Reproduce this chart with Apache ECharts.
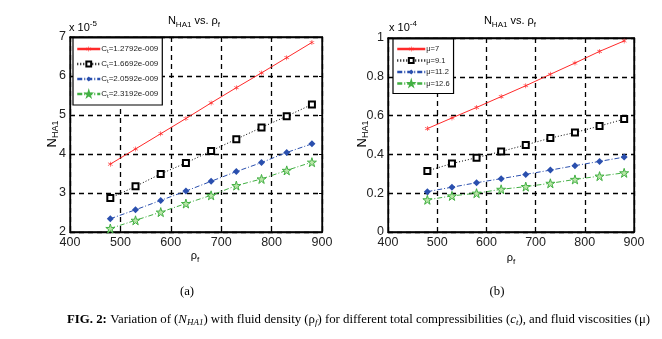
<!DOCTYPE html>
<html><head><meta charset="utf-8">
<script src="https://cdn.jsdelivr.net/npm/echarts@6/dist/echarts.min.js"></script>
<style>html,body{margin:0;padding:0;background:#fff}#c{width:662px;height:339px}</style>
</head><body><div id="c"></div>
<script>
// ---- data ----
const rho = [480, 530, 580, 630, 680, 730, 780, 830, 880];
// panel (a): N_HA1 (x 1e-5) for total compressibilities
const ctNames = ['Ct=1.2792e-009', 'Ct=1.6692e-009', 'Ct=2.0592e-009', 'Ct=2.3192e-009'];
const ctA = [3.74, 4.13, 4.52, 4.91, 5.31, 5.70, 6.08, 6.47, 6.86];
const ctB = [2.87, 3.17, 3.49, 3.77, 4.08, 4.38, 4.68, 4.97, 5.27];
const ctC = [2.34, 2.57, 2.81, 3.05, 3.30, 3.55, 3.78, 4.04, 4.26];
const ctD = [2.09, 2.30, 2.51, 2.73, 2.94, 3.19, 3.36, 3.58, 3.79];
// panel (b): N_HA1 (x 1e-4) for viscosities
const muNames = ['μ=7', 'μ=9.1', 'μ=11.2', 'μ=12.6'];
const muA = [0.533, 0.588, 0.642, 0.698, 0.754, 0.813, 0.871, 0.931, 0.985];
const muB = [0.315, 0.353, 0.383, 0.415, 0.449, 0.484, 0.513, 0.546, 0.582];
const muC = [0.208, 0.231, 0.254, 0.275, 0.297, 0.319, 0.342, 0.364, 0.386];
const muD = [0.166, 0.186, 0.200, 0.220, 0.234, 0.251, 0.271, 0.288, 0.305];
const xTicks = {min: 400, max: 900, interval: 100};
const yTicksA = {min: 2, max: 7, interval: 1};
const yTicksB = {min: 0, max: 1, interval: 0.2};

// ---- styles ----
const starPath = 'path://M50,0 L61,35 L98,35 L68,57 L79,91 L50,70 L21,91 L32,57 L2,35 L39,35 Z';
const asterPath = 'path://M45,0 L55,0 L55,38 L88,19 L93,28 L60,47 L60,53 L93,72 L88,81 L55,62 L55,100 L45,100 L45,62 L12,81 L7,72 L40,53 L40,47 L7,28 L12,19 L45,38 Z';
const styles = [
  {color: '#ff2a2a', line: {type: 'solid', width: 1}, symbol: asterPath, size: 5, item: {color: '#ff2a2a'}},
  {color: '#000000', line: {type: [1, 2], width: 1}, symbol: 'rect', size: 6, item: {color: '#ffffff', borderColor: '#000', borderWidth: 2}},
  {color: '#2a4fae', line: {type: [5, 2, 1, 2], width: 1}, symbol: 'diamond', size: 7, item: {color: '#2a4fae'}},
  {color: '#42b043', line: {type: [5, 2, 1, 2], width: 1}, symbol: starPath, size: 9, item: {color: '#b9e6a8', borderColor: '#42b043', borderWidth: 1}}
];

function mkSeries(name, vals, st, xi, yi) {
  return {
    type: 'line', name: name, xAxisIndex: xi, yAxisIndex: yi,
    data: rho.map((x, i) => [x, vals[i]]),
    symbol: st.symbol, symbolSize: st.size, showAllSymbol: true,
    lineStyle: Object.assign({color: st.color}, st.line),
    itemStyle: Object.assign({}, st.item),
    color: st.color, animation: false, z: 3
  };
}

const labelStyle = {color: '#222', fontFamily: 'Liberation Sans, Arial', fontSize: 12.5};
const gridLine = {show: true, lineStyle: {color: '#000', type: [5, 4], width: 1.3}};
function xAx(gi, pos, lab) {
  return Object.assign({type: 'value', gridIndex: gi, position: pos,
    axisLine: {show: true, onZero: false, lineStyle: {color: '#000', width: 1.3}},
    axisTick: {show: true, inside: true, length: 3, lineStyle: {color: '#000'}},
    axisLabel: Object.assign({show: lab, margin: 4}, labelStyle),
    splitLine: lab ? gridLine : {show: false}}, xTicks);
}
function yAx(gi, pos, lab, t) {
  return Object.assign({type: 'value', gridIndex: gi, position: pos,
    axisLine: {show: true, onZero: false, lineStyle: {color: '#000', width: 1.3}},
    axisTick: {show: true, inside: true, length: 3, lineStyle: {color: '#000'}},
    axisLabel: Object.assign({show: lab, margin: 4}, labelStyle),
    splitLine: lab ? gridLine : {show: false}}, t);
}

const subRich = {
  n: {fontFamily: 'Liberation Sans, Arial', fontSize: 11, color: '#222'},
  s: {fontFamily: 'Liberation Sans, Arial', fontSize: 8, color: '#222', padding: [7, 0, 0, 0]}
};
function legFmt(name) {
  if (name.startsWith('Ct')) return '{n|C}{s|t}{n|' + name.slice(2) + '}';
  return '{n|' + name + '}';
}
function legend(names, left, top, gap, fs, iw, lh) {
  return {
    data: names, orient: 'vertical', left: left, top: top,
    itemWidth: iw, itemHeight: 6, itemGap: gap,
    backgroundColor: '#fff', borderColor: '#000', borderWidth: 1.2,
    padding: [5, 4, 5, 3],
    formatter: legFmt,
    textStyle: {padding: [0, 0, 0, -4], lineHeight: lh, rich: {
      n: {fontFamily: 'Liberation Sans, Arial', fontSize: fs, color: '#222', lineHeight: lh},
      s: {fontFamily: 'Liberation Sans, Arial', fontSize: fs - 2, color: '#222', padding: [4, 0, 0, 0], lineHeight: lh}}},
    lineStyle: {width: 2.5}
  };
}

function txt(x, y, t, rich, extra) {
  return {type: 'text', x: x, y: y, silent: true, style: Object.assign({text: t, rich: rich, align: 'center', verticalAlign: 'middle'}, extra || {})};
}
const capRich = {
  b: {fontFamily: 'Liberation Serif', fontWeight: 'bold', fontSize: 12.8, color: '#000'},
  n: {fontFamily: 'Liberation Serif', fontSize: 12.8, color: '#000'},
  i: {fontFamily: 'Liberation Serif', fontStyle: 'italic', fontSize: 12.8, color: '#000'},
  s: {fontFamily: 'Liberation Serif', fontStyle: 'italic', fontSize: 9, color: '#000', padding: [5, 0, 0, 0]}
};
const supRich = {
  n: {fontFamily: 'Liberation Sans, Arial', fontSize: 11, color: '#222'},
  p: {fontFamily: 'Liberation Sans, Arial', fontSize: 8, color: '#222', padding: [0, 0, 8, 0]}
};
const axRich = {
  n: {fontFamily: 'Liberation Sans, Arial', fontSize: 13, color: '#222'},
  s: {fontFamily: 'Liberation Sans, Arial', fontSize: 9, color: '#222', padding: [8, 0, 0, 0]}
};

const chart = echarts.init(document.getElementById('c'), null, {renderer: 'canvas'});
chart.setOption({
  animation: false,
  backgroundColor: '#fff',
  grid: [
    {left: 70, right: 340, top: 37, bottom: 107, show: true, borderColor: '#000', borderWidth: 1.3, backgroundColor: '#fff'},
    {left: 388, right: 28, top: 38, bottom: 107, show: true, borderColor: '#000', borderWidth: 1.3, backgroundColor: '#fff'}
  ],
  xAxis: [xAx(0, 'bottom', true), xAx(1, 'bottom', true), xAx(0, 'top', false), xAx(1, 'top', false)],
  yAxis: [yAx(0, 'left', true, yTicksA), yAx(1, 'left', true, yTicksB), yAx(0, 'right', false, yTicksA), yAx(1, 'right', false, yTicksB)],
  legend: [
    legend(ctNames, 73, 38, 3, 8, 23, 12),
    legend(muNames, 393, 39, 1.5, 7.5, 28, 10)
  ],
  series: [
    mkSeries(ctNames[0], ctA, styles[0], 0, 0),
    mkSeries(ctNames[1], ctB, styles[1], 0, 0),
    mkSeries(ctNames[2], ctC, styles[2], 0, 0),
    mkSeries(ctNames[3], ctD, styles[3], 0, 0),
    mkSeries(muNames[0], muA, styles[0], 1, 1),
    mkSeries(muNames[1], muB, styles[1], 1, 1),
    mkSeries(muNames[2], muC, styles[2], 1, 1),
    mkSeries(muNames[3], muD, styles[3], 1, 1)
  ],
  graphic: [
    txt(194, 21, '{n|N}{s|HA1}{n| vs. ρ}{s|f}', subRich),
    txt(510, 21, '{n|N}{s|HA1}{n| vs. ρ}{s|f}', subRich),
    txt(69, 28, '{n|x 10}{p|-5}', supRich, {align: 'left'}),
    txt(389, 28, '{n|x 10}{p|-4}', supRich, {align: 'left'}),
    {type: 'text', x: 52, y: 134, rotation: Math.PI / 2, silent: true, style: {text: '{n|N}{s|HA1}', rich: axRich, align: 'center', verticalAlign: 'middle'}},
    {type: 'text', x: 362, y: 134, rotation: Math.PI / 2, silent: true, style: {text: '{n|N}{s|HA1}', rich: axRich, align: 'center', verticalAlign: 'middle'}},
    txt(195, 256, '{n|ρ}{s|f}', subRich),
    txt(511, 258, '{n|ρ}{s|f}', subRich),
    txt(187, 292, '{n|(a)}', capRich),
    txt(497, 292, '{n|(b)}', capRich),
    txt(67, 320, '{b|FIG. 2:} {n|Variation of (}{i|N}{s|HA1}{n|) with fluid density (ρ}{s|f}{n|) for different total compressibilities (}{i|c}{s|t}{n|), and fluid viscosities (μ)}', capRich, {align: 'left'})
  ]
});
</script></body></html>
